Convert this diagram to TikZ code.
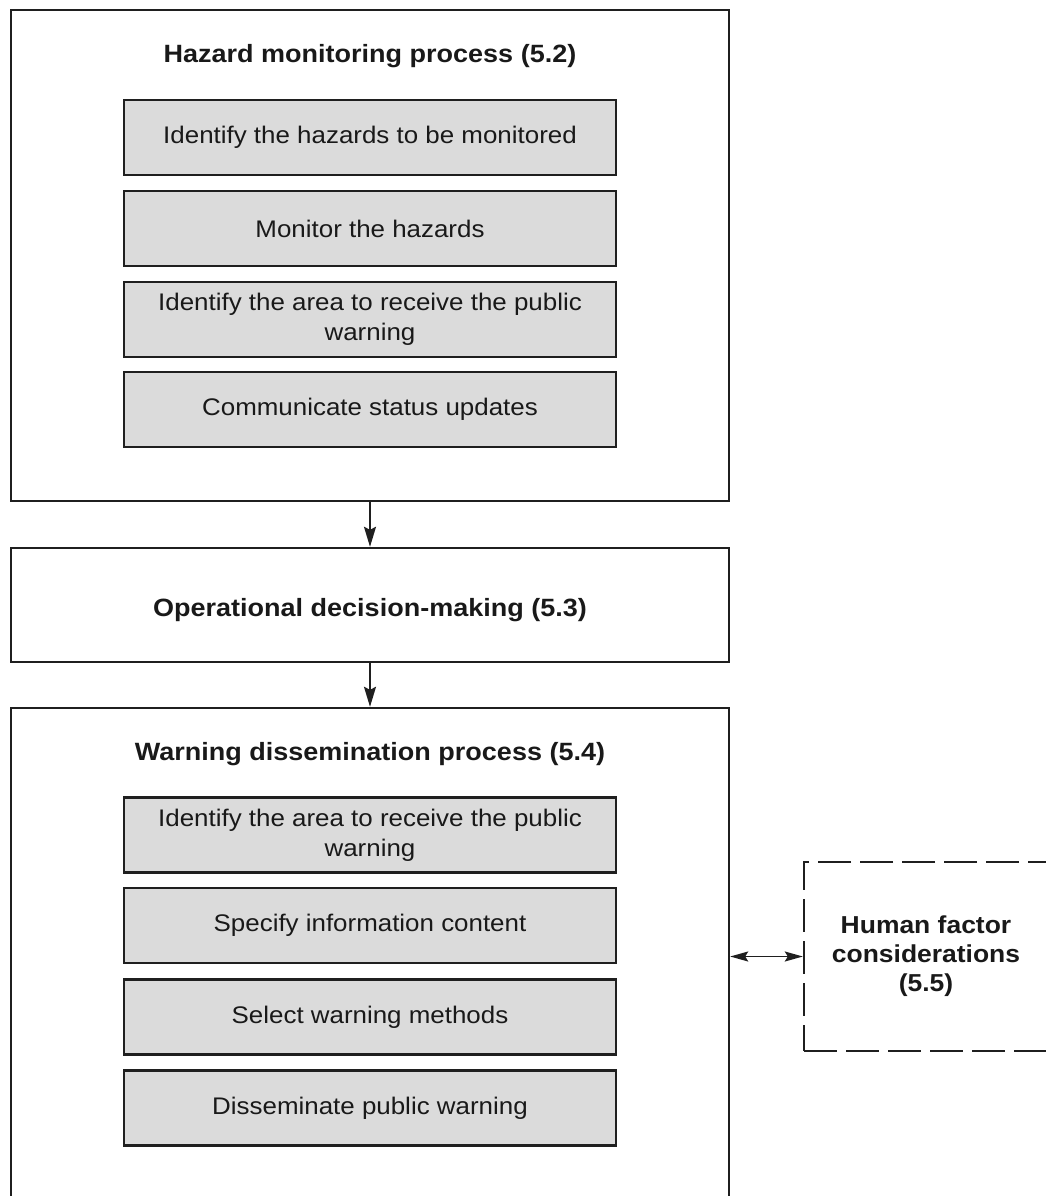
\documentclass[tikz,border=0pt]{standalone}
\usepackage{fontspec}
\setmainfont{Liberation Sans}[FakeStretch=1.08]
\usetikzlibrary{arrows.meta}

\begin{document}
\begin{tikzpicture}[x=1pt,y=-1pt,
  frame/.style={draw=black!88, line width=2.4pt, minimum width=718pt, inner sep=0pt},
  task/.style={draw=black!88, line width=2.6pt, fill=black!14, minimum width=492pt,
    minimum height=75pt, align=center, inner sep=0pt, text=black!90,
    font=\fontsize{24}{30}\selectfont},
  heading/.style={anchor=base, text=black!90, font=\fontsize{25}{30}\selectfont\bfseries},
  factor/.style={draw=black!88, line width=2.4pt, dash pattern=on 33pt off 9pt,
    minimum width=244pt, minimum height=189pt, align=center, text=black!90,
    font=\fontsize{24.5}{29}\selectfont\bfseries},
  flow/.style={line width=1.8pt, draw=black!88, -{Stealth[length=20pt,width=12pt,inset=3pt]}},
  link/.style={line width=1.6pt, draw=black!88,
    {Stealth[length=18pt,width=10pt,inset=3pt]}-{Stealth[length=18pt,width=10pt,inset=3pt]}}
]
\useasboundingbox (0,0) rectangle (1046,1196);
\clip (0,0) rectangle (1046,1196);

% hazard monitoring process
\node[frame, minimum height=491pt] (monitor) at (370,255.5) {};
\node[heading] (monitorTitle) at (370,63) {Hazard monitoring process (5.2)};
\node[task] (m1) at (370,137.5) {Identify the hazards to be monitored};
\node[task] (m2) at (370,228.5) {Monitor the hazards};
\node[task] (m3) at (370,319.5) {Identify the area to receive the public\\warning};
\node[task] (m4) at (370,409.5) {Communicate status updates};

% operational decision-making
\node[frame, minimum height=114pt] (decide) at (370,605) {};
\node[heading] (decideTitle) at (370,616) {Operational decision-making (5.3)};

% warning dissemination process (runs past the lower edge)
\node[frame, minimum height=520pt] (dissem) at (370,968) {};
\node[heading] (dissemTitle) at (370,760) {Warning dissemination process (5.4)};
\node[task] (d1) at (370,835) {Identify the area to receive the public\\warning};
\node[task] (d2) at (370,925.5) {Specify information content};
\node[task] (d3) at (370,1017) {Select warning methods};
\node[task] (d4) at (370,1108) {Disseminate public warning};

% human factor considerations (runs past the right edge)
\node[factor] (human) at (926,956.5) {Human factor\\considerations\\(5.5)};

% connectors
\draw[flow] (monitor.south) -- (decide.north);
\draw[flow] (decide.south) -- (dissem.north);
\draw[link] (dissem.east |- human.west) -- (human.west);
\end{tikzpicture}
\end{document}
